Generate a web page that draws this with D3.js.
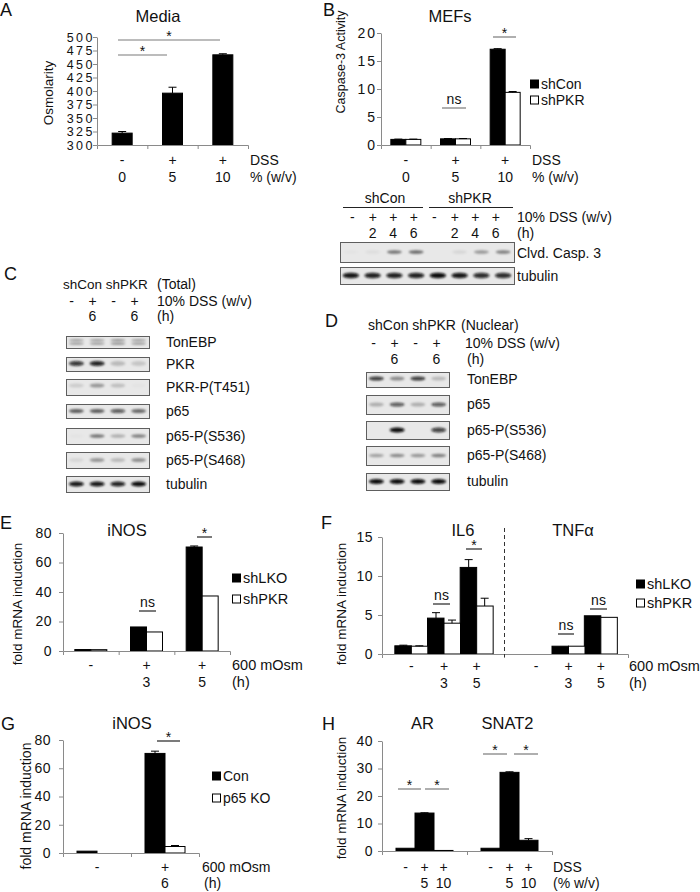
<!DOCTYPE html>
<html><head><meta charset="utf-8">
<script src="https://cdn.jsdelivr.net/npm/d3@7"></script>
<style>
html,body{margin:0;padding:0;background:#fff;}
svg{display:block;}
</style></head><body>
<svg id="fig" width="700" height="892"></svg>
<script>
// ---------------- DATA ----------------
// Panel A
const aTreat = ["-", "+", "+"];
const aConc = ["0", "5", "10"];
const aOsm = [322, 396, 467];
const aOsmErr = [3, 11, 2];
const aTicks = [300, 325, 350, 375, 400, 425, 450, 475, 500];
// Panel B
const bTreat = ["-", "+", "+"];
const bConc = ["0", "5", "10"];
const bShCon = [1.0, 1.1, 17.1];
const bShConErr = [0.05, 0.05, 0.1];
const bShPKR = [1.0, 1.1, 9.4];
const bShPKRErr = [0.05, 0.05, 0.15];
const bTicks = [0, 5, 10, 15, 20];
// Panel B blot
const blotBTreat = ["-", "+", "+", "+", "-", "+", "+", "+"];
const blotBTime = ["", "2", "4", "6", "", "2", "4", "6"];
const blotBCasp = [0.02, 0.05, 0.5, 0.55, 0.0, 0.08, 0.35, 0.45];
const blotBTub = [0.95, 0.9, 0.9, 0.9, 1.0, 0.95, 0.85, 0.85];
// Panel C blot (Total)
const blotCTreat = ["-", "+", "-", "+"];
const blotCTime = ["", "6", "", "6"];
const blotCLabels = ["TonEBP", "PKR", "PKR-P(T451)", "p65", "p65-P(S536)", "p65-P(S468)", "tubulin"];
const blotCTonEBP = [0.35, 0.35, 0.4, 0.35];
const blotCPKR = [0.8, 0.9, 0.2, 0.15];
const blotCPKRP = [0.12, 0.35, 0.18, 0.02];
const blotCp65 = [0.6, 0.6, 0.65, 0.55];
const blotCp65S536 = [0.02, 0.5, 0.25, 0.45];
const blotCp65S468 = [0.08, 0.35, 0.2, 0.38];
const blotCTub = [0.95, 0.95, 0.9, 1.0];
// Panel D blot (Nuclear)
const blotDTreat = ["-", "+", "-", "+"];
const blotDTime = ["", "6", "", "6"];
const blotDLabels = ["TonEBP", "p65", "p65-P(S536)", "p65-P(S468)", "tubulin"];
const blotDTonEBP = [0.8, 0.4, 0.8, 0.2];
const blotDp65 = [0.25, 0.65, 0.25, 0.65];
const blotDp65S536 = [0.0, 1.0, 0.0, 0.75];
const blotDp65S468 = [0.3, 0.4, 0.35, 0.45];
const blotDTub = [1.0, 1.0, 1.0, 1.0];
// Panel E
const eTreat = ["-", "+", "+"];
const eTime = ["", "3", "5"];
const eShLKO = [1.0, 16.3, 70.5];
const eShLKOErr = [0, 0, 0.7];
const eShPKR = [0.9, 12.9, 37.3];
const eShPKRErr = [0, 0, 0];
const eTicks = [0, 20, 40, 60, 80];
// Panel F
const fTreat = ["-", "+", "+"];
const fTime = ["", "3", "5"];
const fIL6LKO = [1.05, 4.6, 11.1];
const fIL6LKOErr = [0.08, 0.7, 1.0];
const fIL6PKR = [1.0, 3.95, 6.15];
const fIL6PKRErr = [0.05, 0.4, 1.0];
const fTNFLKO = [null, 1.0, 4.9];
const fTNFPKR = [null, 1.0, 4.7];
const fTicks = [0, 5, 10, 15];
// Panel G
const gTreat = ["-", "+"];
const gTime = ["", "6"];
const gCon = [1.3, 70.5];
const gConErr = [0, 1.6];
const gKO = [0, 4.6];
const gKOErr = [0, 0.7];
const gTicks = [0, 20, 40, 60, 80];
// Panel H
const hGenes = ["AR", "SNAT2"];
const hTreat = ["-", "+", "+"];
const hConc = ["", "5", "10"];
const hAR = [1.0, 13.8, 0.2];
const hARErr = [0, 0.1, 0];
const hSNAT2 = [1.0, 28.6, 3.9];
const hSNAT2Err = [0, 0.2, 0.6];
const hTicks = [0, 10, 20, 30, 40];

// ---------------- HELPERS ----------------
const FONT = "'Liberation Sans', Arial, sans-serif";
const AX = "#8a8a8a";
const INK = "#111";
const svg = d3.select("#fig").attr("font-family", FONT);
svg.append("defs").append("filter").attr("id", "blur")
  .attr("x", "-50%").attr("y", "-200%").attr("width", "200%").attr("height", "500%")
  .append("feGaussianBlur").attr("stdDeviation", 0.9);

function T(g, x, y, s, o = {}) {
  return g.append("text").attr("x", x).attr("y", y).attr("dy", "0.35em")
    .attr("font-size", o.size || 14).attr("text-anchor", o.anchor || "start")
    .attr("fill", INK).attr("letter-spacing", o.ls || 0).text(s);
}
function yLabel(g, x, y, s, size) {
  g.append("text").attr("transform", `translate(${x},${y}) rotate(-90)`)
    .attr("text-anchor", "middle").attr("dy", "0.35em").attr("font-size", size || 13.5)
    .attr("fill", INK).text(s);
}
function yAxis(g, scale, x, ticks, fs, ls, pad) {
  const a = g.append("g").attr("transform", `translate(${x},0)`)
    .call(d3.axisLeft(scale).tickValues(ticks).tickSize(4).tickSizeOuter(0).tickPadding(pad));
  a.attr("font-family", FONT).attr("font-size", fs);
  a.select(".domain").attr("stroke", AX);
  a.selectAll(".tick line").attr("stroke", AX);
  a.selectAll(".tick text").attr("fill", INK).attr("letter-spacing", ls);
}
function xAxis(g, x0, x1, y, inner) {
  const s = d3.scaleLinear().domain([x0, x1]).range([x0, x1]);
  const a = g.append("g").attr("transform", `translate(0,${y})`)
    .call(d3.axisBottom(s).tickValues(inner).tickSize(4).tickSizeOuter(4).tickFormat(""));
  a.select(".domain").attr("stroke", AX);
  a.selectAll(".tick line").attr("stroke", AX);
}
function bars(g, vals, xf, w, y, fill) {
  const base = y(y.domain()[0]);
  g.append("g").selectAll("rect")
    .data(vals.map((v, i) => ({ v, i })).filter(d => d.v != null && d.v > 0))
    .join("rect")
    .attr("x", d => xf(d.i)).attr("width", w)
    .attr("y", d => y(d.v)).attr("height", d => Math.max(0, base - y(d.v)))
    .attr("fill", fill).attr("stroke", "#000").attr("stroke-width", 1);
}
function errs(g, vals, es, xcf, y) {
  const d = vals.map((v, i) => ({ v, e: es[i], i })).filter(d => d.v != null && d.e > 0);
  const eg = g.append("g").attr("stroke", "#000").attr("stroke-width", 1);
  eg.selectAll("line.v").data(d).join("line").attr("class", "v")
    .attr("x1", d => xcf(d.i)).attr("x2", d => xcf(d.i))
    .attr("y1", d => y(d.v)).attr("y2", d => y(d.v + d.e));
  eg.selectAll("line.c").data(d).join("line").attr("class", "c")
    .attr("x1", d => xcf(d.i) - 4).attr("x2", d => xcf(d.i) + 4)
    .attr("y1", d => y(d.v + d.e)).attr("y2", d => y(d.v + d.e));
}
function sig(g, x1, x2, yl, label, color) {
  g.append("line").attr("x1", x1).attr("x2", x2).attr("y1", yl).attr("y2", yl)
    .attr("stroke", color || "#7a7a7a").attr("stroke-width", 1.2);
  const t = g.append("text").attr("x", (x1 + x2) / 2).attr("text-anchor", "middle")
    .attr("font-size", 14).attr("fill", INK).text(label);
  t.attr("y", label === "*" ? yl + 0.5 : yl - 4.5);
}
function legend(g, x, y1, y2, l1, l2, size) {
  g.append("rect").attr("x", x + 0.5).attr("y", y1 - 4).attr("width", 8).attr("height", 8).attr("fill", "#000").attr("stroke", "#000");
  g.append("rect").attr("x", x + 0.5).attr("y", y2 - 4).attr("width", 8).attr("height", 8).attr("fill", "#fff").attr("stroke", "#000");
  T(g, x + 11, y1, l1, { size: size || 14 });
  T(g, x + 11, y2, l2, { size: size || 14 });
}
function blot(g, x0, x1, y0, y1, vals, o = {}) {
  g.append("rect").attr("x", x0 + 0.5).attr("y", y0 + 0.5).attr("width", x1 - x0).attr("height", y1 - y0)
    .attr("fill", "#e8e8e8").attr("stroke", "#5e5e5e");
  const lanes = d3.scaleBand().domain(d3.range(vals.length)).range([x0, x1]);
  const cy = (y0 + y1) / 2 + (o.dy || 0);
  const offs = o.double ? [-1.8, 1.6] : [0];
  offs.forEach(off => {
    g.append("g").attr("filter", "url(#blur)").selectAll("ellipse")
      .data(vals.map((v, i) => ({ v, i })))
      .join("ellipse")
      .attr("cx", d => lanes(d.i) + lanes.bandwidth() / 2)
      .attr("cy", cy + off)
      .attr("rx", lanes.bandwidth() * (o.rw || 0.36))
      .attr("ry", o.ry || 2.2)
      .attr("fill", "#0a0a0a").attr("opacity", d => d.v);
  });
}
function letter(x, y, s) { T(svg, x, y, s, { size: 18 }); }

// ---------------- PANEL A ----------------
{
  const g = svg.append("g");
  letter(0, 10, "A");
  T(g, 158, 16, "Media", { size: 16.5, anchor: "middle" });
  const x = d3.scaleBand().domain(d3.range(aOsm.length)).range([97, 248]);
  const y = d3.scaleLinear().domain([300, 500]).range([145, 37]);
  yAxis(g, y, 97, aTicks, 12.5, 2.5, -2);
  const xc = i => x(i) + x.bandwidth() / 2;
  bars(g, aOsm, i => xc(i) - 10, 20, y, "#000");
  errs(g, aOsm, aOsmErr, xc, y);
  xAxis(g, 97, 248, 145, d3.range(1, aOsm.length).map(i => x(i)));
  yLabel(g, 48, 93, "Osmolarity", 13.5);
  sig(g, 118, 167, 55, "*");
  sig(g, 118, 220, 40, "*");
  aTreat.forEach((s, i) => T(g, xc(i), 160, s, { anchor: "middle" }));
  aConc.forEach((s, i) => T(g, xc(i), 177, s, { anchor: "middle" }));
  T(g, 250, 160, "DSS");
  T(g, 250, 177, "% (w/v)");
}

// ---------------- PANEL B ----------------
{
  const g = svg.append("g");
  letter(323, 10, "B");
  T(g, 450, 16, "MEFs", { size: 16.5, anchor: "middle" });
  const x = d3.scaleBand().domain(d3.range(bShCon.length)).range([381, 530]);
  const y = d3.scaleLinear().domain([0, 20]).range([145, 33]);
  yAxis(g, y, 381, bTicks, 14, 2, 0);
  const xc = i => x(i) + x.bandwidth() / 2;
  bars(g, bShCon, i => xc(i) - 15, 15, y, "#000");
  bars(g, bShPKR, i => xc(i), 15, y, "#fff");
  errs(g, bShCon, bShConErr, i => xc(i) - 7.5, y);
  errs(g, bShPKR, bShPKRErr, i => xc(i) + 7.5, y);
  xAxis(g, 381, 530, 145, d3.range(1, bShCon.length).map(i => x(i)));
  yLabel(g, 341, 62, "Caspase-3 Activity", 12.5);
  sig(g, 442, 466, 108, "ns");
  sig(g, 493, 516, 37, "*");
  legend(g, 530, 84, 100, "shCon", "shPKR");
  bTreat.forEach((s, i) => T(g, xc(i), 160, s, { anchor: "middle" }));
  bConc.forEach((s, i) => T(g, xc(i), 177, s, { anchor: "middle" }));
  T(g, 532, 160, "DSS");
  T(g, 532, 177, "% (w/v)");

  // blot
  T(g, 385, 198, "shCon", { anchor: "middle" });
  T(g, 470, 198, "shPKR", { anchor: "middle" });
  g.append("line").attr("x1", 343).attr("x2", 423).attr("y1", 207.5).attr("y2", 207.5).attr("stroke", "#222");
  g.append("line").attr("x1", 429).attr("x2", 513).attr("y1", 207.5).attr("y2", 207.5).attr("stroke", "#222");
  const lx = d3.scaleBand().domain(d3.range(blotBTreat.length)).range([342, 506]);
  blotBTreat.forEach((s, i) => T(g, lx(i) + lx.bandwidth() / 2, 217, s, { anchor: "middle" }));
  blotBTime.forEach((s, i) => T(g, lx(i) + lx.bandwidth() / 2, 233, s, { anchor: "middle" }));
  T(g, 517, 217, "10% DSS (w/v)");
  T(g, 517, 233, "(h)");
  blot(g, 340, 514, 242, 262, blotBCasp, { ry: 1.8, rw: 0.34 });
  blot(g, 340, 514, 267, 284, blotBTub, { ry: 2.8, rw: 0.38 });
  T(g, 517, 253, "Clvd. Casp. 3");
  T(g, 517, 276, "tubulin");
}

// ---------------- PANEL C ----------------
{
  const g = svg.append("g");
  letter(4, 274, "C");
  T(g, 63, 284, "shCon shPKR", { size: 13.5 });
  T(g, 157, 284, "(Total)", { size: 14 });
  const lx = d3.scaleBand().domain(d3.range(blotCTreat.length)).range([61, 145]);
  blotCTreat.forEach((s, i) => T(g, lx(i) + lx.bandwidth() / 2, 301, s, { anchor: "middle" }));
  blotCTime.forEach((s, i) => T(g, lx(i) + lx.bandwidth() / 2, 316, s, { anchor: "middle" }));
  T(g, 157, 301, "10% DSS (w/v)");
  T(g, 157, 316, "(h)");
  const rows = [
    [blotCTonEBP, 336, 348, { double: true, ry: 1.1 }],
    [blotCPKR, 357, 371, { ry: 2.4, dy: -0.5 }],
    [blotCPKRP, 379, 395, { ry: 2.0, dy: -1.5 }],
    [blotCp65, 404, 418, { ry: 2.0 }],
    [blotCp65S536, 428, 444, { ry: 1.8 }],
    [blotCp65S468, 452, 468, { ry: 2.0 }],
    [blotCTub, 476, 492, { ry: 2.4 }]
  ];
  rows.forEach((r, k) => {
    blot(g, 66, 149, r[1], r[2], r[0], r[3]);
    T(g, 166, (r[1] + r[2]) / 2, blotCLabels[k]);
  });
}

// ---------------- PANEL D ----------------
{
  const g = svg.append("g");
  letter(325, 321, "D");
  T(g, 368, 325, "shCon shPKR", { size: 14 });
  T(g, 461, 325, "(Nuclear)", { size: 14 });
  const lx = d3.scaleBand().domain(d3.range(blotDTreat.length)).range([363, 447]);
  blotDTreat.forEach((s, i) => T(g, lx(i) + lx.bandwidth() / 2, 343, s, { anchor: "middle" }));
  blotDTime.forEach((s, i) => T(g, lx(i) + lx.bandwidth() / 2, 359, s, { anchor: "middle" }));
  T(g, 465, 343, "10% DSS (w/v)");
  T(g, 467, 359, "(h)");
  const rows = [
    [blotDTonEBP, 372, 387, { ry: 2.0, dy: -1 }],
    [blotDp65, 395, 414, { ry: 2.0 }],
    [blotDp65S536, 421, 439, { ry: 2.4 }],
    [blotDp65S468, 446, 465, { ry: 1.8 }],
    [blotDTub, 473, 490, { ry: 2.4 }]
  ];
  rows.forEach((r, k) => {
    blot(g, 366, 449, r[1], r[2], r[0], r[3]);
    T(g, 467, (r[1] + r[2]) / 2, blotDLabels[k]);
  });
}

// ---------------- PANEL E ----------------
{
  const g = svg.append("g");
  letter(0, 523, "E");
  T(g, 127, 530, "iNOS", { size: 16.5, anchor: "middle" });
  const x = d3.scaleBand().domain(d3.range(eShLKO.length)).range([63, 230]);
  const y = d3.scaleLinear().domain([0, 80]).range([651, 533]);
  yAxis(g, y, 63, eTicks, 14, 0.5, 7);
  const xc = i => x(i) + x.bandwidth() / 2;
  bars(g, eShLKO, i => xc(i) - 16, 16, y, "#000");
  bars(g, eShPKR, i => xc(i), 16, y, "#fff");
  errs(g, eShLKO, eShLKOErr, i => xc(i) - 8, y);
  errs(g, eShPKR, eShPKRErr, i => xc(i) + 8, y);
  xAxis(g, 63, 230, 651, d3.range(1, eShLKO.length).map(i => x(i)));
  yLabel(g, 17, 604, "fold mRNA induction", 13.5);
  sig(g, 139, 156, 611, "ns", "#222");
  sig(g, 197, 212, 537, "*", "#222");
  legend(g, 232, 578, 599, "shLKO", "shPKR", 14.5);
  eTreat.forEach((s, i) => T(g, xc(i), 665, s, { anchor: "middle" }));
  eTime.forEach((s, i) => T(g, xc(i), 682, s, { anchor: "middle" }));
  T(g, 232, 665, "600 mOsm", { size: 14.5 });
  T(g, 232, 682, "(h)", { size: 14.5 });
}

// ---------------- PANEL F ----------------
{
  const g = svg.append("g");
  letter(321, 523, "F");
  T(g, 463, 530, "IL6", { size: 16.5, anchor: "middle" });
  T(g, 573, 530, "TNFα", { size: 16.5, anchor: "middle" });
  const xl = d3.scaleBand().domain(d3.range(fIL6LKO.length)).range([395, 493]);
  const xr = d3.scaleBand().domain(d3.range(fTNFLKO.length)).range([520, 617]);
  const y = d3.scaleLinear().domain([0, 15]).range([654, 537]);
  yAxis(g, y, 382, fTicks, 14, 0.5, 5);
  const xcl = i => xl(i) + xl.bandwidth() / 2;
  const xcr = i => xr(i) + xr.bandwidth() / 2;
  bars(g, fIL6LKO, i => xcl(i) - 16.5, 16.5, y, "#000");
  bars(g, fIL6PKR, i => xcl(i), 16.5, y, "#fff");
  errs(g, fIL6LKO, fIL6LKOErr, i => xcl(i) - 8, y);
  errs(g, fIL6PKR, fIL6PKRErr, i => xcl(i) + 8, y);
  bars(g, fTNFLKO, i => xcr(i) - 16.5, 16.5, y, "#000");
  bars(g, fTNFPKR, i => xcr(i), 16.5, y, "#fff");
  xAxis(g, 382, 628, 654, [504]);
  g.append("line").attr("x1", 504.5).attr("x2", 504.5).attr("y1", 528).attr("y2", 657)
    .attr("stroke", "#333").attr("stroke-dasharray", "4,3");
  yLabel(g, 341, 604, "fold mRNA induction", 13.5);
  sig(g, 433, 450, 604, "ns", "#222");
  sig(g, 466, 482, 549, "*", "#222");
  sig(g, 558, 574, 634, "ns", "#222");
  sig(g, 590, 607, 609, "ns", "#222");
  legend(g, 636, 584, 603, "shLKO", "shPKR", 14.5);
  fTreat.forEach((s, i) => T(g, xcl(i), 666, s, { anchor: "middle" }));
  fTime.forEach((s, i) => T(g, xcl(i), 683, s, { anchor: "middle" }));
  fTreat.forEach((s, i) => T(g, xcr(i), 666, s, { anchor: "middle" }));
  fTime.forEach((s, i) => T(g, xcr(i), 683, s, { anchor: "middle" }));
  T(g, 629, 666, "600 mOsm", { size: 14.5 });
  T(g, 629, 683, "(h)", { size: 14.5 });
}

// ---------------- PANEL G ----------------
{
  const g = svg.append("g");
  letter(1, 724, "G");
  T(g, 132, 723, "iNOS", { size: 16.5, anchor: "middle" });
  const x = d3.scaleBand().domain(d3.range(gCon.length)).range([63, 199]);
  const y = d3.scaleLinear().domain([0, 80]).range([853, 740]);
  yAxis(g, y, 63, gTicks, 14, 0.5, 8);
  const xc = i => x(i) + x.bandwidth() / 2;
  bars(g, gCon, i => xc(i) - 20, 20, y, "#000");
  bars(g, gKO, i => xc(i), 20, y, "#fff");
  errs(g, gCon, gConErr, i => xc(i) - 10, y);
  errs(g, gKO, gKOErr, i => xc(i) + 10, y);
  xAxis(g, 63, 199, 853, d3.range(1, gCon.length).map(i => x(i)));
  yLabel(g, 26, 806, "fold mRNA induction", 14);
  sig(g, 157, 180, 741, "*", "#222");
  legend(g, 212, 776, 798, "Con", "p65 KO", 14);
  gTreat.forEach((s, i) => T(g, xc(i), 867, s, { anchor: "middle" }));
  gTime.forEach((s, i) => T(g, xc(i), 883, s, { anchor: "middle" }));
  T(g, 202, 867, "600 mOsm", { size: 14 });
  T(g, 204, 883, "(h)", { size: 14 });
}

// ---------------- PANEL H ----------------
{
  const g = svg.append("g");
  letter(322, 724, "H");
  const xo = d3.scaleBand().domain(hGenes).range([382, 552]);
  const xi = d3.scaleBand().domain(d3.range(hTreat.length)).range([0, 57]);
  const off = (xo.bandwidth() - 57) / 2;
  const y = d3.scaleLinear().domain([0, 40]).range([851, 741]);
  yAxis(g, y, 382, hTicks, 14, 0.5, 5);
  hGenes.forEach(gn => T(g, xo(gn) + xo.bandwidth() / 2 - 2, 723, gn, { size: 16.5, anchor: "middle" }));
  const series = { AR: [hAR, hARErr], SNAT2: [hSNAT2, hSNAT2Err] };
  hGenes.forEach(gn => {
    const bx = i => xo(gn) + off + xi(i);
    const bc = i => bx(i) + xi.bandwidth() / 2;
    bars(g, series[gn][0], bx, xi.bandwidth(), y, "#000");
    errs(g, series[gn][0], series[gn][1], bc, y);
    hTreat.forEach((s, i) => T(g, bc(i), 867, s, { anchor: "middle" }));
    hConc.forEach((s, i) => T(g, bc(i), 883, s, { anchor: "middle" }));
  });
  xAxis(g, 382, 552, 851, [xo("SNAT2")]);
  yLabel(g, 341, 798, "fold mRNA induction", 13.5);
  sig(g, 398, 421, 789, "*");
  sig(g, 425, 449, 789, "*");
  sig(g, 483, 507, 754, "*");
  sig(g, 514, 538, 754, "*");
  T(g, 553, 867, "DSS");
  T(g, 553, 883, "(% w/v)");
}
</script>
</body></html>
